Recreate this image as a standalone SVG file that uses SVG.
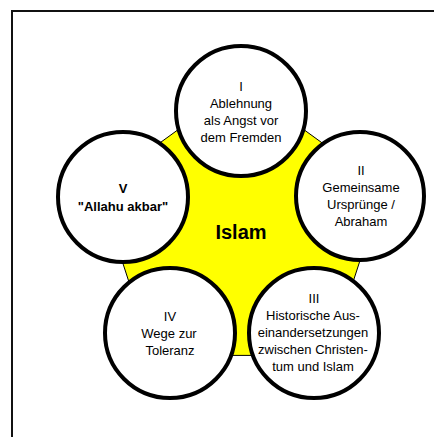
<svg xmlns="http://www.w3.org/2000/svg" width="434" height="437" viewBox="0 0 434 437">
<style>
.n{fill:#fff;stroke:#000;stroke-width:4}
.t{font-family:"Liberation Sans",Arial,sans-serif;font-size:13px;fill:#000;text-anchor:middle}
.b{font-weight:bold}
</style>
<rect width="434" height="437" fill="#fff"/>
<rect x="12" y="11" width="440" height="440" fill="none" stroke="#111" stroke-width="2"/>
<g id="center">
<polygon points="241,84 383.7,187.6 329.2,355.4 152.8,355.4 98.3,187.6" fill="#ffff00" stroke="#000" stroke-width="1"/>
<text class="t b" x="241" y="239" style="font-size:20px">Islam</text>
</g>
<g id="connectors"></g>
<g id="n1">
<circle class="n" cx="241" cy="111" r="65"/>
<text class="t" x="241" y="91">I</text>
<text class="t" x="241" y="108">Ablehnung</text>
<text class="t" x="241" y="125">als Angst vor</text>
<text class="t" x="241" y="142">dem Fremden</text>
</g>
<g id="n2">
<circle class="n" cx="360" cy="196" r="64"/>
<text class="t" x="361" y="175">II</text>
<text class="t" x="361" y="192">Gemeinsame</text>
<text class="t" x="361" y="209">Ursprünge /</text>
<text class="t" x="361" y="226">Abraham</text>
</g>
<g id="n3">
<circle class="n" cx="314" cy="333" r="65"/>
<text class="t" x="314" y="303">III</text>
<text class="t" x="313" y="320">Historische Aus-</text>
<text class="t" x="313" y="337">einandersetzungen</text>
<text class="t" x="313" y="354">zwischen Christen-</text>
<text class="t" x="313" y="371">tum und Islam</text>
</g>
<g id="n4">
<circle class="n" cx="170" cy="333" r="65"/>
<text class="t" x="170" y="321">IV</text>
<text class="t" x="169" y="338">Wege zur</text>
<text class="t" x="170" y="355">Toleranz</text>
</g>
<g id="n5">
<circle class="n" cx="123" cy="197" r="65"/>
<text class="t b" x="123" y="193">V</text>
<text class="t b" x="123" y="211">"Allahu akbar"</text>
</g>
</svg>
